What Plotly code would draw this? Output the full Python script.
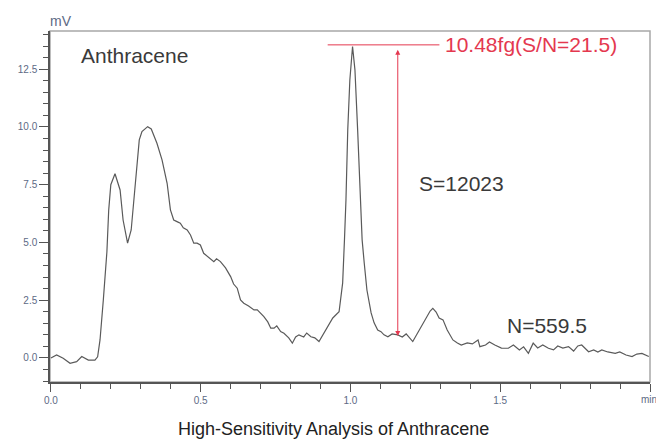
import plotly.graph_objects as go

# chromatogram (time in min, signal in mV)
time_min = [0.000, 0.019, 0.041, 0.064, 0.086, 0.103, 0.125, 0.147, 0.156, 0.164, 0.175, 0.187, 0.193, 0.200,
            0.214, 0.231, 0.241, 0.256, 0.268, 0.281, 0.295, 0.304, 0.323, 0.335, 0.354, 0.371, 0.388,
            0.399, 0.410, 0.421, 0.432, 0.442, 0.455, 0.466, 0.477, 0.488, 0.499, 0.510, 0.526, 0.544,
            0.553, 0.566, 0.583, 0.600, 0.610, 0.622, 0.633, 0.644, 0.660, 0.678, 0.689, 0.700, 0.711,
            0.724, 0.734, 0.745, 0.754, 0.767, 0.778, 0.794, 0.806, 0.817, 0.828, 0.844, 0.854, 0.868,
            0.881, 0.895, 0.908, 0.924, 0.941, 0.962, 0.974, 0.980, 0.985, 0.991, 0.998, 1.007, 1.015,
            1.024, 1.032, 1.039, 1.046, 1.055, 1.069, 1.079, 1.091, 1.102, 1.112, 1.125, 1.139, 1.158,
            1.173, 1.186, 1.208, 1.223, 1.236, 1.253, 1.266, 1.275, 1.286, 1.296, 1.309, 1.323, 1.342,
            1.357, 1.370, 1.390, 1.407, 1.426, 1.432, 1.451, 1.464, 1.482, 1.504, 1.527, 1.544, 1.564,
            1.578, 1.594, 1.610, 1.625, 1.642, 1.661, 1.678, 1.692, 1.709, 1.728, 1.745, 1.759, 1.772,
            1.795, 1.812, 1.826, 1.839, 1.859, 1.884, 1.899, 1.920, 1.940, 1.956, 1.973, 1.996]
signal_mv = [0.00, 0.13, -0.01, -0.23, -0.16, 0.06, -0.09, -0.09, 0.05, 0.78, 2.51, 4.60, 6.40, 7.50,
             7.97, 7.27, 5.97, 4.97, 5.54, 7.49, 9.44, 9.80, 10.01, 9.91, 9.29, 8.57, 7.56,
             6.41, 5.97, 5.90, 5.83, 5.63, 5.54, 5.32, 4.97, 4.97, 4.89, 4.53, 4.37, 4.17,
             4.29, 4.17, 3.90, 3.52, 3.20, 3.02, 2.51, 2.37, 2.25, 2.08, 2.08, 1.94, 1.79,
             1.56, 1.29, 1.29, 1.39, 1.14, 1.07, 0.87, 0.64, 0.91, 1.00, 0.91, 1.08, 0.92,
             0.87, 0.71, 1.00, 1.35, 1.73, 2.00, 3.25, 5.11, 6.84, 9.87, 12.03, 13.48, 12.47,
             9.87, 7.27, 5.11, 4.11, 2.94, 1.95, 1.52, 1.21, 1.14, 1.00, 0.92, 1.04, 1.00,
             0.91, 1.04, 0.71, 1.04, 1.35, 1.73, 2.03, 2.15, 1.99, 1.73, 1.65, 1.21, 0.78,
             0.65, 0.56, 0.65, 0.61, 0.78, 0.49, 0.56, 0.69, 0.56, 0.43, 0.42, 0.56, 0.35,
             0.48, 0.20, 0.64, 0.43, 0.56, 0.42, 0.35, 0.52, 0.43, 0.49, 0.30, 0.52, 0.56,
             0.27, 0.35, 0.26, 0.35, 0.26, 0.20, 0.26, 0.13, 0.06, 0.17, 0.20, 0.06]

x_tick_vals = [0.0, 0.5, 1.0, 1.5, 2.0]
x_tick_text = ["0.0", "0.5", "1.0", "1.5", ""]
x_unit = "min"
y_tick_vals = [0.0, 2.5, 5.0, 7.5, 10.0, 12.5]
y_tick_text = ["0.0", "2.5", "5.0", "7.5", "10.0", "12.5"]

peak_level = 13.55
noise_level = 0.95
marker_time = 1.158
label_top = "10.48fg(S/N=21.5)"
label_signal = "S=12023"
label_noise = "N=559.5"
compound = "Anthracene"
caption = "High-Sensitivity Analysis of Anthracene"

RED = "#e4384f"
TICK = "#5d6a85"
TXT = "#3a3a3a"
FONT = "Liberation Sans, Arial, sans-serif"

fig = go.Figure()
fig.add_trace(go.Scatter(x=time_min, y=signal_mv, mode="lines",
                         line=dict(color="#5a5a5a", width=1.2), hoverinfo="skip"))

# frame (top/right lighter)
fig.add_shape(type="rect", xref="paper", yref="paper", x0=0, x1=1, y0=0, y1=1,
              line=dict(color="#a8a8a8", width=1.5), layer="below")

# peak height line
fig.add_shape(type="line", xref="x", yref="y", x0=0.924, x1=1.297, y0=peak_level, y1=peak_level,
              line=dict(color=RED, width=1))
# double arrow
fig.add_annotation(x=marker_time, y=noise_level, ax=marker_time, ay=peak_level - 0.15,
                   xref="x", yref="y", axref="x", ayref="y", text="", showarrow=True,
                   arrowhead=2, startarrowhead=2, arrowside="end+start", arrowsize=1,
                   arrowwidth=1, arrowcolor=RED)

fig.add_annotation(x=1.31, y=peak_level, xref="x", yref="y", text=label_top, showarrow=False,
                   xanchor="left", yanchor="middle", font=dict(family=FONT, size=21, color=RED))
fig.add_annotation(x=1.222, y=7.57, xref="x", yref="y", text=label_signal, showarrow=False,
                   xanchor="left", yanchor="middle", font=dict(family=FONT, size=21, color=TXT))
fig.add_annotation(x=1.517, y=1.41, xref="x", yref="y", text=label_noise, showarrow=False,
                   xanchor="left", yanchor="middle", font=dict(family=FONT, size=21, color=TXT))
fig.add_annotation(x=0.095, y=13.1, xref="x", yref="y", text=compound, showarrow=False,
                   xanchor="left", yanchor="middle", font=dict(family=FONT, size=21, color=TXT))
fig.add_annotation(x=-0.004, y=1.0, xref="paper", yref="paper", text="mV", showarrow=False,
                   xanchor="left", yanchor="bottom", yshift=0,
                   font=dict(family=FONT, size=14, color=TICK))
fig.add_annotation(x=1.0, y=0.0, xref="paper", yref="paper", text=x_unit, showarrow=False,
                   xanchor="left", yanchor="top", xshift=-11, yshift=-10,
                   font=dict(family=FONT, size=10, color=TICK))
fig.add_annotation(x=0.4717, y=-0.1325, xref="paper", yref="paper", text=caption, showarrow=False,
                   xanchor="center", yanchor="middle", font=dict(family=FONT, size=18, color="#222222"))

fig.update_xaxes(range=[-0.003, 2.0], tickvals=x_tick_vals, ticktext=x_tick_text,
                 ticks="outside", ticklen=8, tickcolor="#555555", tickwidth=1,
                 minor=dict(dtick=0.1, ticks="outside", ticklen=5, tickcolor="#555555"),
                 showline=True, linecolor="#555555", linewidth=1.5, showgrid=False, zeroline=False,
                 tickfont=dict(family=FONT, size=10, color=TICK))
fig.update_yaxes(range=[-1.04, 14.15], tickvals=y_tick_vals, ticktext=y_tick_text,
                 ticks="outside", ticklen=9, tickcolor="#555555", tickwidth=1,
                 minor=dict(dtick=0.5, ticks="outside", ticklen=5, tickcolor="#555555"),
                 showline=True, linecolor="#555555", linewidth=1.5, showgrid=False, zeroline=False,
                 tickfont=dict(family=FONT, size=10, color=TICK))

fig.update_layout(width=656, height=439, margin=dict(l=50, r=6, t=31, b=57),
                  paper_bgcolor="white", plot_bgcolor="white", showlegend=False)

fig.write_html("out.html", config={"displayModeBar": False},
               post_script="document.documentElement.style.overflow='hidden';"
                           "document.body.style.margin='0';document.body.style.overflow='hidden';")
